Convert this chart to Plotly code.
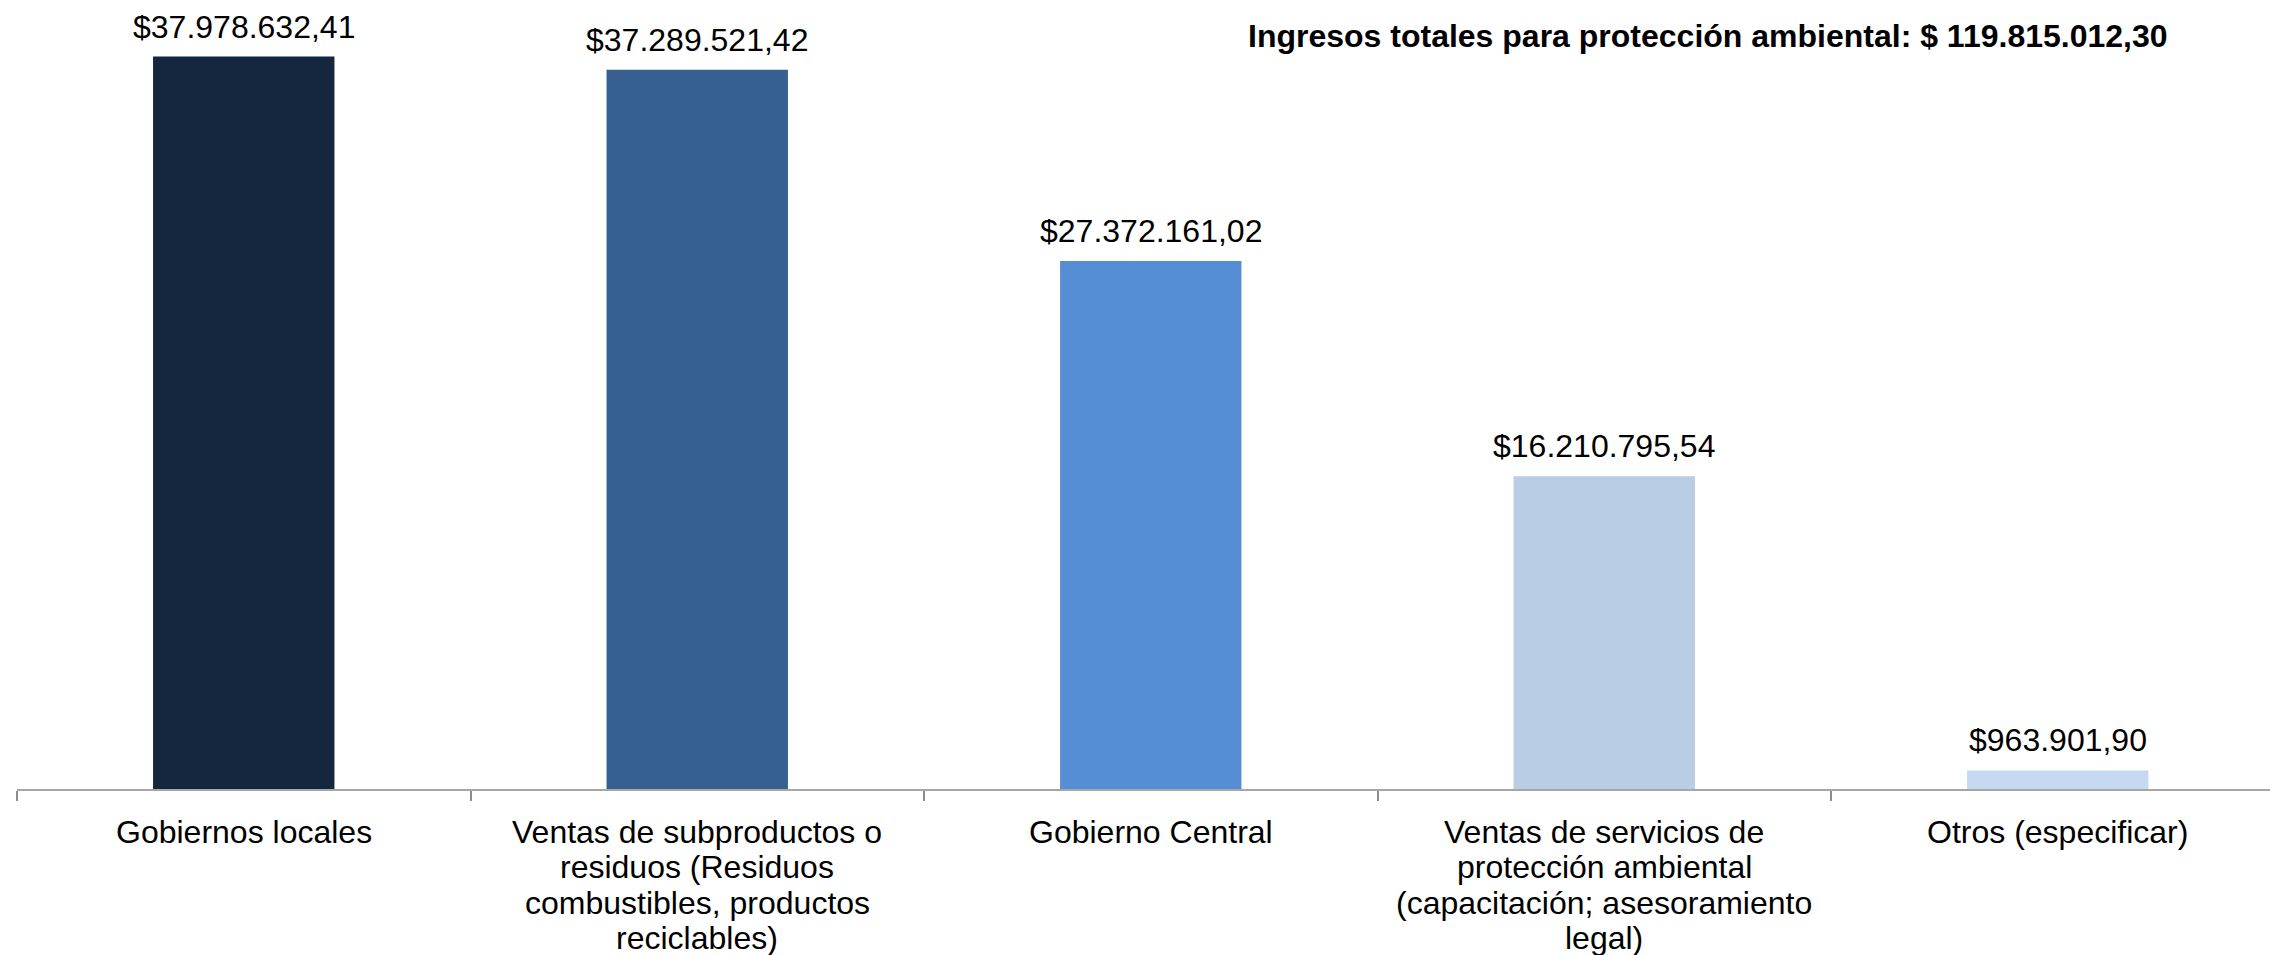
import plotly.graph_objects as go

categories = [
    "Gobiernos locales",
    "Ventas de subproductos o\nresiduos (Residuos\ncombustibles, productos\nreciclables)",
    "Gobierno Central",
    "Ventas de servicios de\nprotección ambiental\n(capacitación; asesoramiento\nlegal)",
    "Otros (especificar)",
]
values = [37978632.41, 37289521.42, 27372161.02, 16210795.54, 963901.90]
colors = ["#14273F", "#376092", "#558ED5", "#B9CDE5", "#C6D9F1"]
title_text = "Ingresos totales para protección ambiental: $ 119.815.012,30"


def fmt(v):
    s = f"{v:,.2f}"
    s = s.replace(",", "X").replace(".", ",").replace("X", ".")
    return "$" + s


FONT = "Liberation Sans, Arial, sans-serif"
cat_keys = [c.split("\n")[0] for c in categories]

fig = go.Figure()
fig.add_trace(go.Bar(
    x=cat_keys, y=values, marker=dict(color=colors, line=dict(width=0)),
    width=0.4, hoverinfo="skip",
))

annotations = []
for i, v in enumerate(values):
    annotations.append(dict(
        x=cat_keys[i], y=v, xref="x", yref="y", text=fmt(v), showarrow=False,
        yanchor="middle", xanchor="center", yshift=30,
        font=dict(family=FONT, size=32, color="#000000"),
    ))
    for j, line in enumerate(categories[i].split("\n")):
        annotations.append(dict(
            x=cat_keys[i], y=0, xref="x", yref="y", text=line, showarrow=False,
            yanchor="middle", xanchor="center", yshift=-(43 + 35.3 * j),
            font=dict(family=FONT, size=32, color="#000000"),
        ))

annotations.append(dict(
    x=0.7504, y=0.954, xref="paper", yref="paper", text="<b>" + title_text + "</b>",
    showarrow=False, xanchor="center", yanchor="middle",
    font=dict(family=FONT, size=32, color="#000000"),
))

fig.update_layout(
    width=2270, height=955,
    margin=dict(l=17, r=0, t=0, b=166, autoexpand=False),
    paper_bgcolor="white", plot_bgcolor="white",
    showlegend=False,
    annotations=annotations,
    xaxis=dict(
        type="category", categoryorder="array", categoryarray=cat_keys,
        range=[-0.5, 4.468],
        showticklabels=False, ticks="outside", tickson="boundaries",
        ticklen=10, tickcolor="#8C8C8C", tickwidth=1.5,
        showline=True, linecolor="#A6A6A6", linewidth=2,
        showgrid=False, zeroline=False, fixedrange=True,
    ),
    yaxis=dict(
        range=[0, 40.908e6], visible=False, showgrid=False, zeroline=False,
        fixedrange=True,
    ),
)

fig.write_html(
    "out.html",
    config={"displayModeBar": False},
    post_script="document.body.style.margin='0';document.body.style.overflow='hidden';",
)
